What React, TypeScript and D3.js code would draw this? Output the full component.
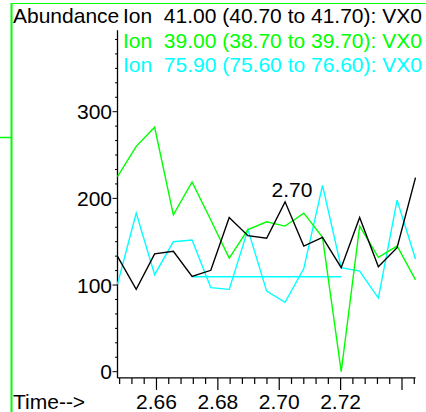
import * as d3 from 'd3';
import React from 'react';

// scan times (min) and abundances
const scanTimes = [
  2.6473, 2.6534, 2.6594, 2.6655, 2.6716, 2.6777, 2.6837, 2.6898, 2.6959,
  2.7019, 2.708, 2.7141, 2.7202, 2.7262, 2.7323, 2.7384, 2.7444,
];
const ion41 = [133, 95, 136, 139, 110, 117, 178, 157, 154, 196, 145, 155, 120, 178, 121, 143, 224];
const ion39 = [225, 260, 282, 181, 219, 175, 131, 164, 173, 168, 183, 155, 0, 168, 132, 145, 106];
const ion759 = [101, 183, 112, 150, 152, 97, 95, 164, 93, 80, 119, 215, 120, 116, 85, 198, 130];
const ion759Baseline = [
  { t: 2.6716, v: 109.5 },
  { t: 2.7202, v: 109.5 },
];

const legendLines = [
  { text: 'Ion  41.00 (40.70 to 41.70): VX0', color: '#000000' },
  { text: 'Ion  39.00 (38.70 to 39.70): VX0', color: '#00ff00' },
  { text: 'Ion  75.90 (75.60 to 76.60): VX0', color: '#00ffff' },
];
const yLabels = [0, 100, 200, 300];
const xLabels = [2.66, 2.68, 2.7, 2.72];
const peakIndex = 9;
const peakLabel = '2.70';

const W = 426;
const H = 412;
const font = "'Liberation Sans', Arial, sans-serif";
const fs = 21;

const App = () => {
  const x = d3
    .scaleLinear()
    .domain([scanTimes[0], scanTimes[scanTimes.length - 1]])
    .range([117.5, 415.5]);
  const y = d3.scaleLinear().domain([0, 300]).range([371.7, 111.7]);
  const yTop = y(394);
  const yBottom = y(-7.2);

  const line = d3
    .line<number>()
    .x((_, i) => x(scanTimes[i]))
    .y((d) => y(d));
  const baseLine = d3
    .line<{ t: number; v: number }>()
    .x((d) => x(d.t))
    .y((d) => y(d.v));

  const xTicks = d3.range(662, 687).map((k) => ({ v: k * 0.004, major: k % 5 === 0 }));
  const yTicks = d3.range(0, 24).map((k) => ({ v: (k * 100) / 6, major: k % 6 === 0 }));

  return (
    <svg
      width={W}
      height={H}
      style={{ position: 'absolute', left: 0, top: 0, background: '#fff' }}
      fontFamily={font}
      fontSize={fs}
    >
      {/* frame pieces */}
      <line x1={11} x2={W} y1={3.5} y2={3.5} stroke="#00ff00" strokeWidth={1.2} />
      <line x1={11.5} x2={11.5} y1={3} y2={H} stroke="#00ff00" strokeWidth={2} />
      <line x1={0} x2={11} y1={137.5} y2={137.5} stroke="#00ff00" strokeWidth={1.5} />

      <text x={13} y={23}>Abundance</text>
      {legendLines.map((l, i) => (
        <text key={i} x={123} y={23 + i * 24.7} fill={l.color} style={{ whiteSpace: 'pre' }}>
          {l.text}
        </text>
      ))}

      {/* y axis */}
      <line x1={117.5} x2={117.5} y1={yTop} y2={yBottom} stroke="#000" strokeWidth={1.3} />
      {yTicks.map((t, i) => (
        <line
          key={i}
          x1={117.5 - (t.major ? 5 : 2.5)}
          x2={117.5}
          y1={y(t.v)}
          y2={y(t.v)}
          stroke="#000"
          strokeWidth={1}
        />
      ))}
      {yLabels.map((v) => (
        <text key={v} x={112} y={y(v)} dy="0.36em" textAnchor="end">
          {v}
        </text>
      ))}

      {/* x axis */}
      <line x1={117.5} x2={415.5} y1={yBottom} y2={yBottom} stroke="#000" strokeWidth={1.3} />
      {xTicks.map((t, i) => (
        <line
          key={i}
          x1={x(t.v)}
          x2={x(t.v)}
          y1={yBottom}
          y2={yBottom + (t.major ? 12 : 6)}
          stroke="#000"
          strokeWidth={1.2}
        />
      ))}
      {xLabels.map((v) => (
        <text key={v} x={x(v)} y={409} textAnchor="middle">
          {v.toFixed(2)}
        </text>
      ))}
      <text x={13} y={409}>Time--&gt;</text>

      {/* traces */}
      <path d={baseLine(ion759Baseline) ?? ''} fill="none" stroke="#00ffff" strokeWidth={1.4} />
      <path d={line(ion759) ?? ''} fill="none" stroke="#00ffff" strokeWidth={1.4} />
      <path d={line(ion39) ?? ''} fill="none" stroke="#00ff00" strokeWidth={1.4} />
      <path d={line(ion41) ?? ''} fill="none" stroke="#000000" strokeWidth={1.4} />

      <text x={x(scanTimes[peakIndex]) - 13.5} y={y(ion41[peakIndex]) - 4.5}>
        {peakLabel}
      </text>
    </svg>
  );
};

export default App;
